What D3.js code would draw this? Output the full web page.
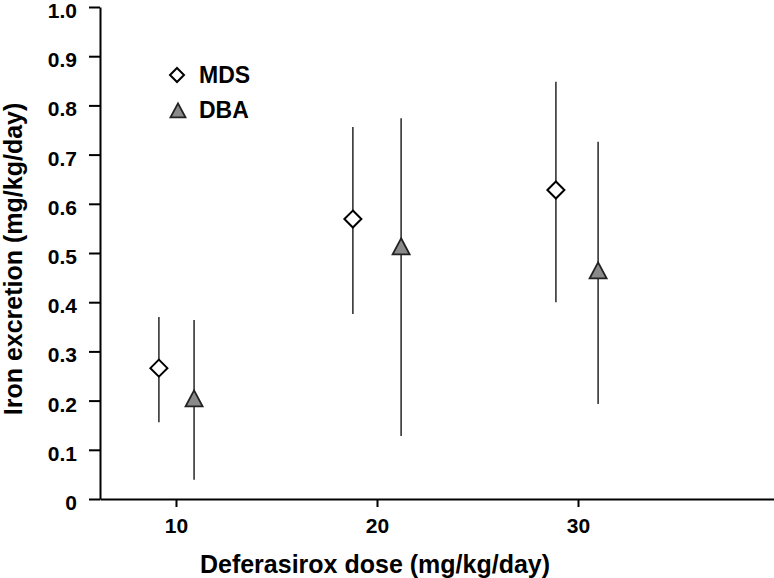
<!DOCTYPE html>
<html>
<head>
<meta charset="utf-8">
<script src="https://cdn.jsdelivr.net/npm/d3@7/dist/d3.min.js"></script>
<style>
  body { margin: 0; background: #fff; }
  svg { display: block; font-family: "Liberation Sans", Arial, Helvetica, sans-serif; font-weight: bold; }
</style>
</head>
<body>
<svg id="chart" width="774" height="578"></svg>
<script>
// dose (mg/kg/day), plotted slightly offset per group
var mdsDose = [9.15, 18.8, 28.9];
var mdsMean = [0.266, 0.569, 0.628];
var mdsLow  = [0.156, 0.376, 0.400];
var mdsHigh = [0.370, 0.756, 0.848];

var dbaDose = [10.9, 21.2, 31.0];
var dbaMean = [0.203, 0.512, 0.463];
var dbaLow  = [0.039, 0.128, 0.193];
var dbaHigh = [0.364, 0.774, 0.726];

var xTicks = [10, 20, 30];
var yTicks = [0, 0.1, 0.2, 0.3, 0.4, 0.5, 0.6, 0.7, 0.8, 0.9, 1.0];

var svg = d3.select("#chart");

var x = d3.scaleLinear().domain([6.22, 39.75]).range([100, 774]);
var y = d3.scaleLinear().domain([0, 1]).range([499, 7]);

// axes
var xAxis = svg.append("g")
	.attr("transform", "translate(0," + y(0) + ")")
	.call(d3.axisBottom(x).tickValues(xTicks).tickSize(8).tickSizeOuter(0).tickPadding(11));
var yAxis = svg.append("g")
	.attr("transform", "translate(" + x(6.22) + ",0)")
	.call(d3.axisLeft(y).tickValues(yTicks).tickSize(11).tickSizeOuter(0).tickPadding(12)
		.tickFormat(function(d) { return d === 0 ? "0" : d3.format(".1f")(d); }));

[xAxis, yAxis].forEach(function(a) {
	a.attr("font-size", null).attr("font-family", null);
	a.selectAll("path, line").attr("stroke", "#000").attr("stroke-width", 2);
	a.selectAll("text").attr("fill", "#000").style("font-size", "21px").style("font-weight", "bold")
		.style("font-family", "\"Liberation Sans\", Arial, sans-serif");
});
yAxis.selectAll("text").attr("dy", "0.5em");

// axis titles
svg.append("text")
	.attr("x", 375).attr("y", 573)
	.attr("text-anchor", "middle")
	.style("font-size", "25px")
	.text("Deferasirox dose (mg/kg/day)");
svg.append("text")
	.attr("transform", "translate(22,259) rotate(-90)")
	.attr("text-anchor", "middle")
	.style("font-size", "25px")
	.text("Iron excretion (mg/kg/day)");

var diamond = function(s) { return "M0," + (-s) + "L" + s + ",0L0," + s + "L" + (-s) + ",0Z"; };
var triangle = function(w, h) { return "M0," + (-h * 0.55) + "L" + (w / 2) + "," + (h * 0.45) + "L" + (-w / 2) + "," + (h * 0.45) + "Z"; };

// error bars
function whiskers(dose, low, high) {
	svg.append("g").selectAll("line")
		.data(dose)
		.enter().append("line")
		.attr("x1", function(d) { return x(d); })
		.attr("x2", function(d) { return x(d); })
		.attr("y1", function(d, i) { return y(high[i]); })
		.attr("y2", function(d, i) { return y(low[i]); })
		.attr("stroke", "#333")
		.attr("stroke-width", 1.6);
}
whiskers(mdsDose, mdsLow, mdsHigh);
whiskers(dbaDose, dbaLow, dbaHigh);

svg.append("g").selectAll("path")
	.data(mdsDose)
	.enter().append("path")
	.attr("d", diamond(8.5))
	.attr("transform", function(d, i) { return "translate(" + x(d) + "," + y(mdsMean[i]) + ")"; })
	.attr("fill", "#fff")
	.attr("stroke", "#000")
	.attr("stroke-width", 2);

svg.append("g").selectAll("path")
	.data(dbaDose)
	.enter().append("path")
	.attr("d", triangle(17, 16))
	.attr("transform", function(d, i) { return "translate(" + x(d) + "," + y(dbaMean[i]) + ")"; })
	.attr("fill", "#8a8a8a")
	.attr("stroke", "#222")
	.attr("stroke-width", 1.8);

// legend
var legend = svg.append("g");
legend.append("path")
	.attr("d", diamond(7))
	.attr("transform", "translate(177,75)")
	.attr("fill", "#fff").attr("stroke", "#000").attr("stroke-width", 2);
legend.append("text").attr("x", 199).attr("y", 83).style("font-size", "23px").text("MDS");
legend.append("path")
	.attr("d", triangle(15, 14))
	.attr("transform", "translate(178,111)")
	.attr("fill", "#8a8a8a").attr("stroke", "#222").attr("stroke-width", 1.8);
legend.append("text").attr("x", 199).attr("y", 118).style("font-size", "23px").text("DBA");
</script>
</body>
</html>
